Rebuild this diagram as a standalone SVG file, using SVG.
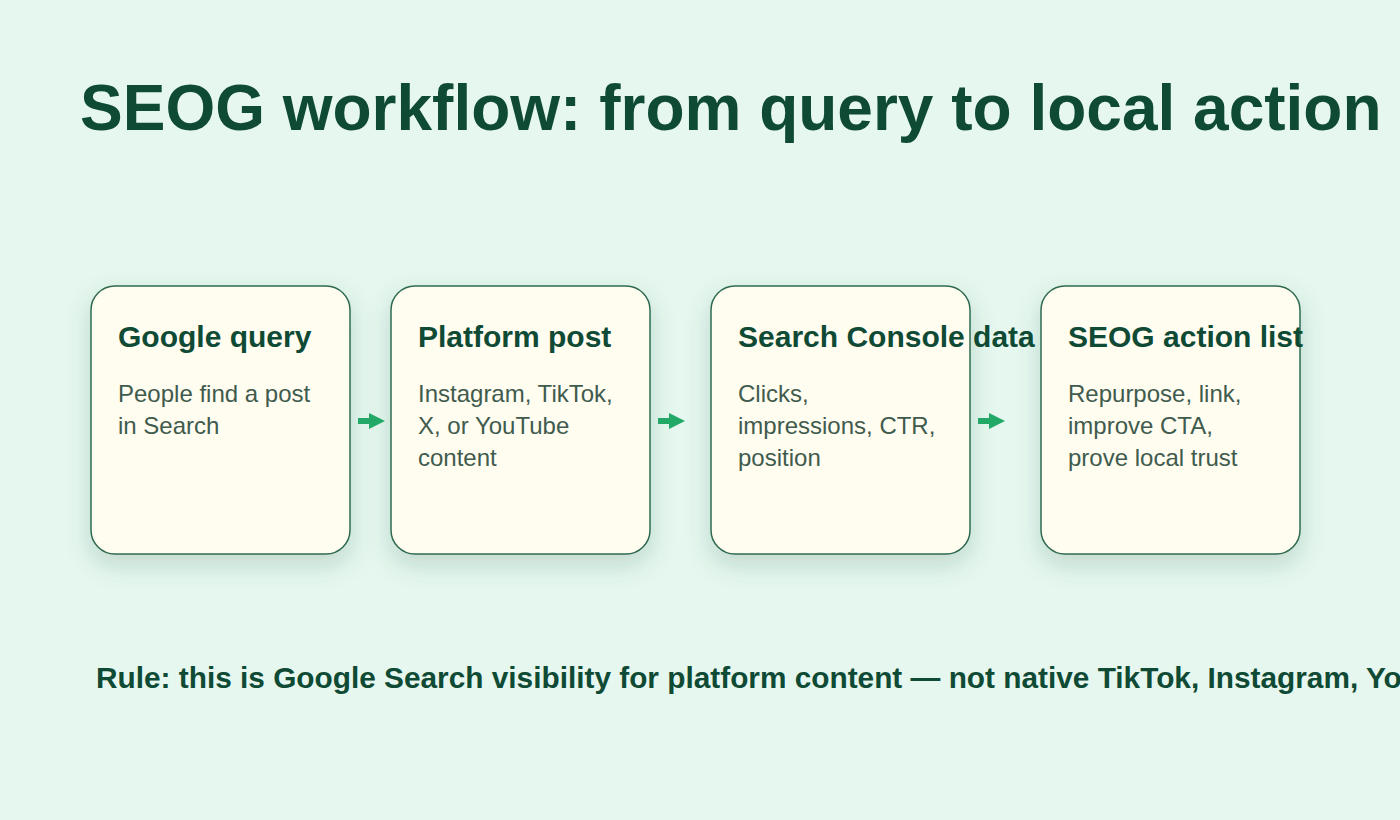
<svg xmlns="http://www.w3.org/2000/svg" width="1400" height="820" viewBox="0 0 1400 820">
<defs>
<filter id="sh" x="-25%" y="-25%" width="150%" height="160%">
<feDropShadow dx="0" dy="10" stdDeviation="12" flood-color="#1f5f46" flood-opacity="0.2"/>
</filter>
<marker id="ah" viewBox="0 0 10 10" refX="0" refY="5" markerWidth="17" markerHeight="16" markerUnits="userSpaceOnUse" orient="auto">
<path d="M0,0 L10,5 L0,10 Z" fill="#22a867"/>
</marker>
</defs>
<style>
.box{fill:#fffcf0;stroke:#2f6b50;stroke-width:1.5;filter:url(#sh)}
.h{font-family:"Liberation Sans",Arial,sans-serif;font-weight:bold;font-size:30px;fill:#0f4a35}
.b{font-family:"Liberation Sans",Arial,sans-serif;font-size:24px;fill:#3f5b4d}
.c{stroke:#22a867;stroke-width:6;fill:none}
</style>
<rect width="1400" height="820" fill="#e6f7ef"/>
<text x="80" y="130" font-family="'Liberation Sans',Arial,sans-serif" font-weight="bold" font-size="64" fill="#0f4a35">SEOG workflow: from query to local action</text>
<g id="n1">
<rect class="box" x="91" y="286" width="259" height="268" rx="24"/>
<text class="h" x="118" y="347">Google query</text>
<text class="b" x="118" y="402">People find a post</text>
<text class="b" x="118" y="434">in Search</text>
</g>
<g id="n2">
<rect class="box" x="391" y="286" width="259" height="268" rx="24"/>
<text class="h" x="418" y="347">Platform post</text>
<text class="b" x="418" y="402">Instagram, TikTok,</text>
<text class="b" x="418" y="434">X, or YouTube</text>
<text class="b" x="418" y="466">content</text>
</g>
<g id="n3">
<rect class="box" x="711" y="286" width="259" height="268" rx="24"/>
<text class="h" x="738" y="347">Search Console data</text>
<text class="b" x="738" y="402">Clicks,</text>
<text class="b" x="738" y="434">impressions, CTR,</text>
<text class="b" x="738" y="466">position</text>
</g>
<g id="n4">
<rect class="box" x="1041" y="286" width="259" height="268" rx="24"/>
<text class="h" x="1068" y="347">SEOG action list</text>
<text class="b" x="1068" y="402">Repurpose, link,</text>
<text class="b" x="1068" y="434">improve CTA,</text>
<text class="b" x="1068" y="466">prove local trust</text>
</g>
<g id="connectors">
<line class="c" x1="358" y1="421" x2="369" y2="421" marker-end="url(#ah)"/>
<line class="c" x1="658" y1="421" x2="669" y2="421" marker-end="url(#ah)"/>
<line class="c" x1="978" y1="421" x2="989" y2="421" marker-end="url(#ah)"/>
</g>
<text x="96" y="688" font-family="'Liberation Sans',Arial,sans-serif" font-weight="bold" font-size="29.8" fill="#0f4a35">Rule: this is Google Search visibility for platform content — not native TikTok, Instagram, YouTube</text>
</svg>
